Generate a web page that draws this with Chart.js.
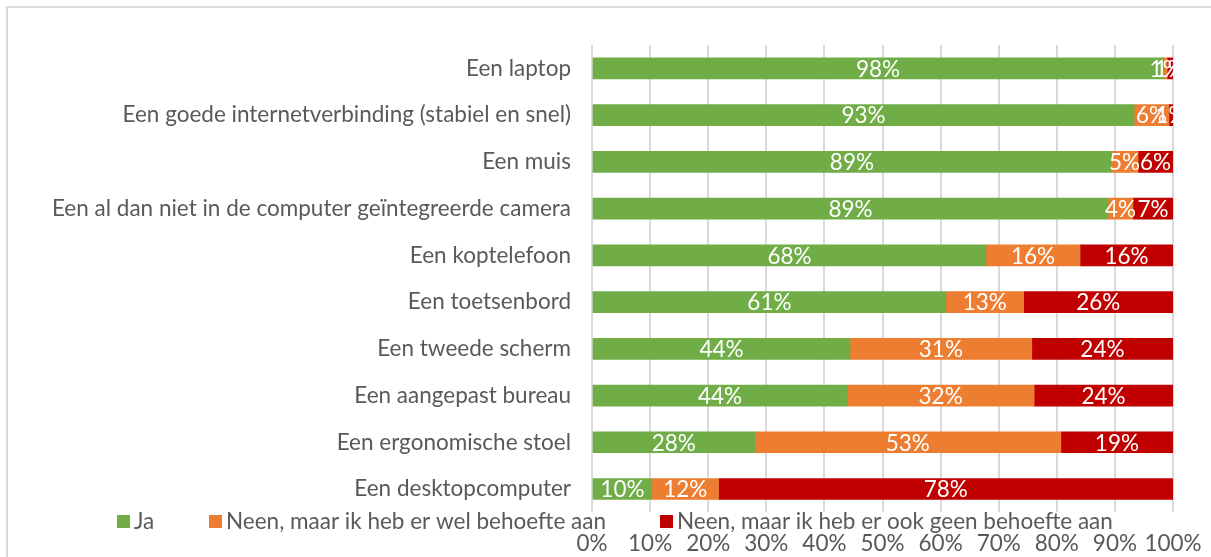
<!DOCTYPE html>
<html>
<head>
<meta charset="utf-8">
<script src="https://cdn.jsdelivr.net/npm/chart.js@4.4.0/dist/chart.umd.min.js"></script>
<style>
  body { margin: 0; background: #fff; overflow: hidden; }
  #frame { position: absolute; left: 6px; top: 6px; width: 1400px; height: 800px; border: 2px solid #d9d9d9; }
  #myChart { position: absolute; left: 0; top: 0; }
</style>
</head>
<body>
<div id="frame"></div>
<canvas id="myChart" width="1211" height="557"></canvas>
<script>
const categories = [
    'Een laptop',
    'Een goede internetverbinding (stabiel en snel)',
    'Een muis',
    'Een al dan niet in de computer geïntegreerde camera',
    'Een koptelefoon',
    'Een toetsenbord',
    'Een tweede scherm',
    'Een aangepast bureau',
    'Een ergonomische stoel',
    'Een desktopcomputer'
];

const seriesNames = ['Ja', 'Neen, maar ik heb er wel behoefte aan', 'Neen, maar ik heb er ook geen behoefte aan'];

// percentages
const ja = [98.3, 93.3, 89.3, 88.8, 67.8, 60.9, 44.4, 43.9, 28.0, 10.3];
const welBehoefte = [0.7, 6.0, 4.7, 4.3, 16.2, 13.4, 31.3, 32.2, 52.7, 11.5];
const geenBehoefte = [1.0, 0.7, 6.0, 6.9, 16.0, 25.7, 24.3, 23.9, 19.3, 78.2];

const xTicks = [0, 10, 20, 30, 40, 50, 60, 70, 80, 90, 100];

const colors = ['#70ad47', '#ed7d31', '#c00000'];
const textGray = '#595959';
const fontFamily = 'Lato, "Open Sans", sans-serif';
const fontSize = 22.5;

// white value labels in the middle of every segment
const valueLabels = {
    id: 'valueLabels',
    afterDatasetsDraw(chart) {
        const c = chart.ctx;
        c.save();
        c.font = fontSize + 'px ' + fontFamily;
        c.fillStyle = '#ffffff';
        c.textAlign = 'center';
        c.textBaseline = 'middle';
        chart.data.datasets.forEach((ds, i) => {
            chart.getDatasetMeta(i).data.forEach((bar, j) => {
                const mid = (bar.x + bar.base) / 2;
                c.fillText(Math.round(ds.data[j]) + '%', mid, bar.y + 1);
            });
        });
        c.restore();
    }
};

// legend sits between the bars and the x tick labels, like the original
const legendRow = {
    id: 'legendRow',
    afterDraw(chart) {
        const c = chart.ctx;
        const xs = [117, 209, 660];
        const y = 522;
        c.save();
        c.font = fontSize + 'px ' + fontFamily;
        c.textBaseline = 'middle';
        c.textAlign = 'left';
        chart.data.datasets.forEach((ds, i) => {
            c.fillStyle = ds.backgroundColor;
            c.fillRect(xs[i], y - 7, 13, 13);
            c.fillStyle = textGray;
            c.fillText(ds.label, xs[i] + 17, y);
        });
        c.restore();
    }
};

const ctx = document.getElementById('myChart');

new Chart(ctx, {
    type: 'bar',
    data: {
        labels: categories,
        datasets: [
            { label: seriesNames[0], data: ja, backgroundColor: colors[0] },
            { label: seriesNames[1], data: welBehoefte, backgroundColor: colors[1] },
            { label: seriesNames[2], data: geenBehoefte, backgroundColor: colors[2] }
        ]
    },
    options: {
        indexAxis: 'y',
        responsive: false,
        animation: false,
        datasets: {
            bar: { barThickness: 21, borderWidth: 0 }
        },
        layout: {
            padding: { top: 45, right: 38, left: 0, bottom: 0 }
        },
        plugins: {
            legend: { display: false },
            tooltip: { enabled: false }
        },
        scales: {
            x: {
                stacked: true,
                min: 0,
                max: 100,
                afterBuildTicks: (scale) => {
                    scale.ticks = xTicks.map(v => ({ value: v }));
                },
                afterFit: (scale) => {
                    scale.height = 44.6;
                    scale.paddingLeft = 0;
                    scale.paddingRight = 0;
                },
                grid: { color: '#d9d9d9', lineWidth: 2, drawTicks: false },
                border: { display: false },
                ticks: {
                    color: textGray,
                    padding: 18,
                    autoSkip: false,
                    font: { family: fontFamily, size: fontSize },
                    maxRotation: 0,
                    minRotation: 0,
                    callback: (v) => v + '%'
                }
            },
            y: {
                stacked: true,
                afterFit: (scale) => { scale.width = 592; },
                grid: { display: false, drawTicks: false },
                border: { display: false },
                ticks: {
                    color: textGray,
                    padding: 21,
                    font: { family: fontFamily, size: fontSize }
                }
            }
        }
    },
    plugins: [valueLabels, legendRow]
});
</script>
</body>
</html>
